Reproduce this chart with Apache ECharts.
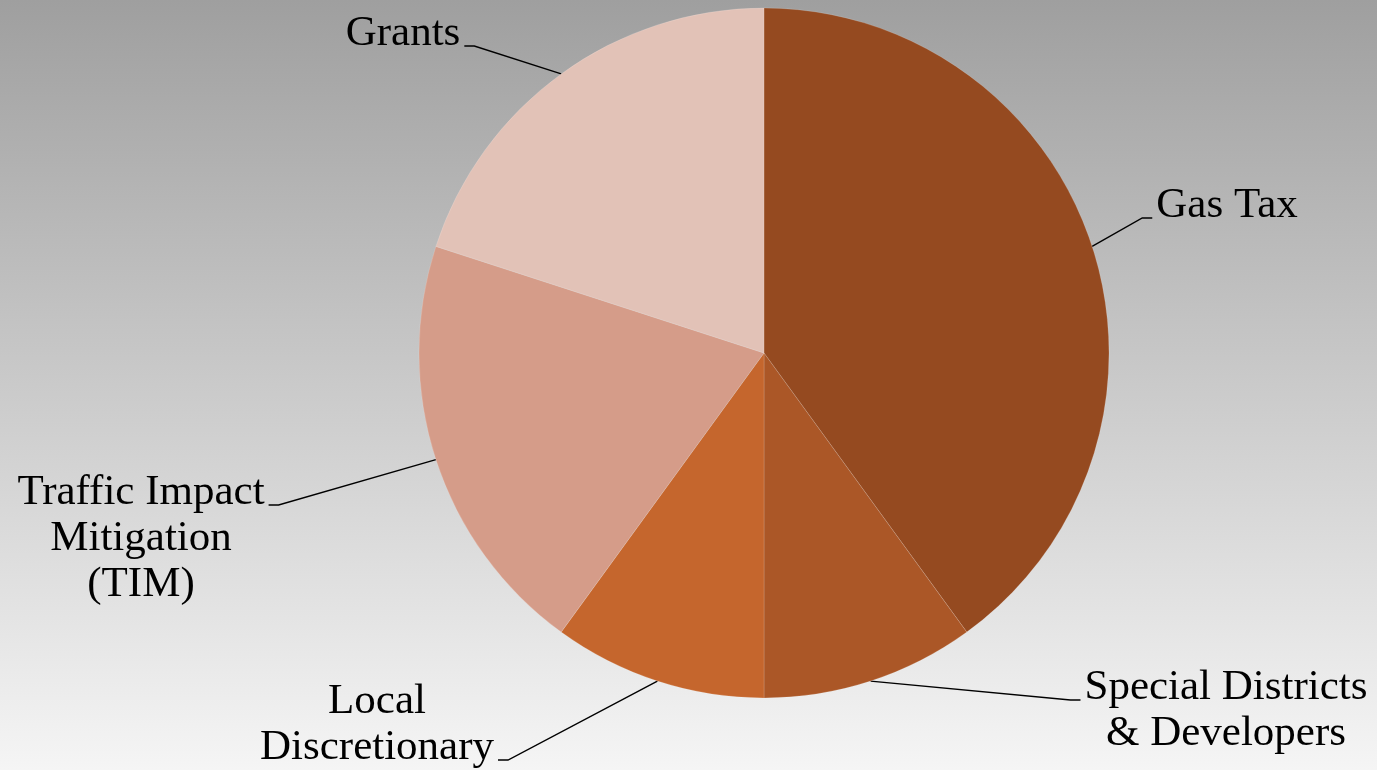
<!DOCTYPE html>
<html>
<head>
<meta charset="utf-8">
<script src="https://cdn.jsdelivr.net/npm/echarts@6/dist/echarts.min.js"></script>
<style>
html,body{margin:0;padding:0;width:1377px;height:770px;overflow:hidden;}
#chart{width:1377px;height:770px;}
</style>
</head>
<body>
<div id="chart"></div>
<script>
// ---- data ----
const categories = ['Gas Tax', 'Special Districts & Developers', 'Local Discretionary', 'Traffic Impact Mitigation (TIM)', 'Grants'];
const labelTexts = ['Gas Tax', 'Special Districts\n& Developers', 'Local\nDiscretionary', 'Traffic Impact\nMitigation\n(TIM)', 'Grants'];
const shares = [40, 10, 10, 20, 20];

// ---- styles ----
const sliceColors = ['#954A20', '#AB5727', '#C5662D', '#D59C89', '#E2C2B7'];
const LH = 46;
const labelPlacement = [
  { x: 1227, y: 206, side: 'left', line: 0 },
  { x: 1226, y: 711, side: 'left', line: 0 },
  { x: 377, y: 725, side: 'right', line: 1 },
  { x: 141, y: 539, side: 'right', line: 0 },
  { x: 403, y: 34, side: 'right', line: 0 }
];

const chart = echarts.init(document.getElementById('chart'));
chart.setOption({
  backgroundColor: new echarts.graphic.LinearGradient(0, 0, 0, 1, [
    { offset: 0, color: '#9f9f9f' },
    { offset: 1, color: '#f5f5f5' }
  ]),
  animation: false,
  series: [{
    type: 'pie',
    center: [764, 353],
    radius: 345,
    startAngle: 90,
    clockwise: true,
    avoidLabelOverlap: false,
    data: categories.map((c, i) => ({
      name: c,
      value: shares[i],
      itemStyle: { color: sliceColors[i] }
    })),
    itemStyle: { borderColor: 'rgba(255,255,255,0.25)', borderWidth: 0.6 },
    label: {
      show: true,
      position: 'outside',
      formatter: p => labelTexts[p.dataIndex],
      fontFamily: '"Liberation Serif", "DejaVu Serif", serif',
      fontSize: 43,
      lineHeight: LH,
      color: '#000',
      align: 'center'
    },
    labelLine: {
      show: true,
      length: 20,
      length2: 10,
      lineStyle: { color: '#000', width: 1.4 }
    },
    labelLayout: function (p) {
      const pl = labelPlacement[p.dataIndex];
      const w = p.labelRect.width, h = p.labelRect.height;
      const top = pl.y - h / 2;
      const ey = top + LH * (pl.line + 0.5) + 12;
      const dir = pl.side === 'left' ? -1 : 1;
      const ex = pl.x + dir * (w / 2 + 4);
      const start = p.labelLinePoints[0];
      return {
        x: pl.x, y: pl.y, align: 'center', verticalAlign: 'middle',
        labelLinePoints: [[start[0], start[1]], [ex + dir * 10, ey], [ex, ey]]
      };
    },
    emphasis: { disabled: true }
  }]
});
</script>
</body>
</html>
